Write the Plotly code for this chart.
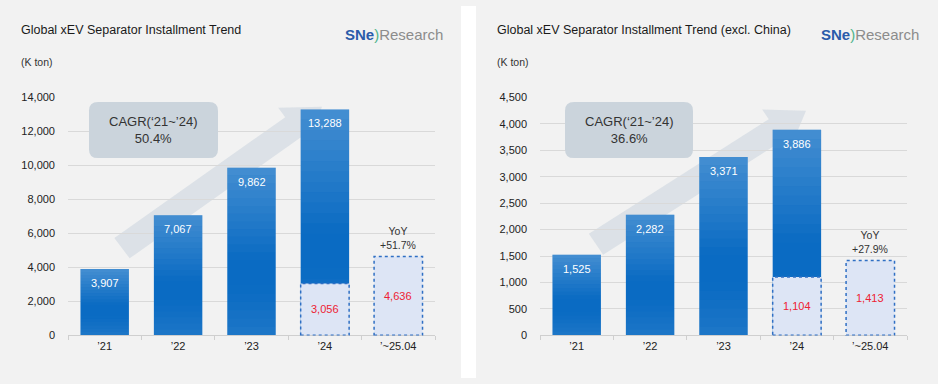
import math
import plotly.graph_objects as go

# ---------------- data ----------------
categories = ["’21", "’22", "’23", "’24", "’~25.04"]
global_vals = [3907, 7067, 9862, 13288, None]
global_ytd = [None, None, None, 3056, 4636]
excl_vals = [1525, 2282, 3371, 3886, None]
excl_ytd = [None, None, None, 1104, 1413]
titles = ["Global xEV Separator Installment Trend",
          "Global xEV Separator Installment Trend (excl. China)"]
cagr_texts = ["CAGR(‘21~’24)<br>50.4%", "CAGR(‘21~’24)<br>36.6%"]
yoy_texts = ["YoY<br>+51.7%", "YoY<br>+27.9%"]
y_max = [14000, 4500]
y_step = [2000, 500]

# ---------------- layout helpers ----------------
W, H = 938, 384
def px(x):
    return x / W
def py(y):
    return 1 - y / H

BAR_W = 0.66
BLUE = "#0a6bc3"
FONT = "Liberation Sans, Arial, sans-serif"

fig = go.Figure()

panels = [
    dict(vals=global_vals, ytd=global_ytd, xa="x", ya="y", dom=(68, 435), x0=0, x1=461,
         title_x=19, logo_x=343, cagr=(89, 218), arrow=((122, 250), (322, 104))),
    dict(vals=excl_vals, ytd=excl_ytd, xa="x2", ya="y2", dom=(540, 907), x0=476, x1=938,
         title_x=495, logo_x=819, cagr=(565, 693), arrow=((596, 246), (806, 108))),
]

shapes = []
annotations = []

# white gap between panels
shapes.append(dict(type="rect", xref="paper", yref="paper", x0=px(461), x1=px(476), y0=0, y1=1,
                   fillcolor="white", line=dict(width=0), layer="below"))

for k, p in enumerate(panels):
    xa, ya = p["xa"], p["ya"]
    fig.add_trace(go.Bar(x=categories, y=p["vals"], xaxis=xa, yaxis=ya, width=BAR_W,
                         marker=dict(color=BLUE, line=dict(width=0)), hoverinfo="skip",
                         showlegend=False))
    fig.add_trace(go.Bar(x=categories, y=p["ytd"], xaxis=xa, yaxis=ya, width=BAR_W,
                         marker=dict(color="#dde5f5", line=dict(width=0)), hoverinfo="skip",
                         showlegend=False))
    # gradient sheen on the blue bars (translucent bands over each bar)
    for i, v in enumerate(p["vals"]):
        if v is None:
            continue
        floor = p["ytd"][i] or 0
        nb = 12
        for j in range(nb):  # top light band fading down over 55% of height
            t0 = 1 - 0.55 * (j + 1) / nb
            t1 = 1 - 0.55 * j / nb
            op = 0.24 * (1 - (j + 0.5) / nb)
            y0, y1 = max(v * t0, floor), v * t1
            if y1 <= y0:
                continue
            shapes.append(dict(type="rect", xref=xa, yref=ya, x0=i - BAR_W / 2, x1=i + BAR_W / 2,
                               y0=y0, y1=y1, fillcolor=f"rgba(255,255,255,{op:.3f})",
                               line=dict(width=0), layer="above"))
        for j in range(6):  # slight lightening at the bottom
            t0 = 0.3 * j / 6
            t1 = 0.3 * (j + 1) / 6
            op = 0.08 * (1 - (j + 0.5) / 6)
            y0, y1 = max(v * t0, floor), v * t1
            if y1 <= y0:
                continue
            shapes.append(dict(type="rect", xref=xa, yref=ya, x0=i - BAR_W / 2, x1=i + BAR_W / 2,
                               y0=y0, y1=y1, fillcolor=f"rgba(255,255,255,{op:.3f})",
                               line=dict(width=0), layer="above"))
    # dotted outline for ytd boxes
    for i, v in enumerate(p["ytd"]):
        if v is None:
            continue
        shapes.append(dict(type="rect", xref=xa, yref=ya, x0=i - BAR_W / 2, x1=i + BAR_W / 2,
                           y0=0, y1=v, line=dict(color="#2f6fc4", width=1.5, dash="dot"),
                           fillcolor="rgba(0,0,0,0)", layer="above"))
        annotations.append(dict(xref=xa, yref=ya, x=categories[i], y=v / 2, text=f"{v:,}",
                                showarrow=False, font=dict(color="#ee2233", size=11, family=FONT)))
    # white value labels
    for i, v in enumerate(p["vals"]):
        if v is None:
            continue
        annotations.append(dict(xref=xa, yref=ya, x=categories[i], y=v, yshift=-14,
                                text=f"{v:,}", showarrow=False,
                                font=dict(color="white", size=11, family=FONT)))
    # YoY
    annotations.append(dict(xref=xa, yref=ya, x=categories[4], y=p["ytd"][4], yshift=4,
                            yanchor="bottom", text=yoy_texts[k], showarrow=False,
                            font=dict(color="#333333", size=10.5, family=FONT)))
    # title, unit, logo
    annotations.append(dict(xref="paper", yref="paper", x=px(p["title_x"]), y=py(25),
                            xanchor="left", yanchor="middle", text=titles[k], showarrow=False,
                            font=dict(color="#1a1a1a", size=12.5, family=FONT)))
    annotations.append(dict(xref="paper", yref="paper", x=px(p["title_x"]), y=py(58),
                            xanchor="left", yanchor="middle", text="(K ton)", showarrow=False,
                            font=dict(color="#333333", size=10.5, family=FONT)))
    annotations.append(dict(xref="paper", yref="paper", x=px(p["logo_x"]), y=py(29),
                            xanchor="left", yanchor="middle",
                            text="<b><span style='color:#2a5caa'>SNe</span></b>"
                                 "<span style='color:#4fb48a'>)</span>"
                                 "<span style='color:#8c8c8c'>Research</span>",
                            showarrow=False, font=dict(size=15, family=FONT)))
    # arrow
    (sx, sy), (tx, ty) = p["arrow"]
    dx, dy = tx - sx, ty - sy
    d = math.hypot(dx, dy)
    ux, uy = dx / d, dy / d
    nx, ny = -uy, ux
    a, b, L = 13, 25, 36
    bx, by = tx - ux * L, ty - uy * L
    pts = [(sx + nx * a, sy + ny * a), (bx + nx * a, by + ny * a), (bx + nx * b, by + ny * b),
           (tx, ty), (bx - nx * b, by - ny * b), (bx - nx * a, by - ny * a),
           (sx - nx * a, sy - ny * a)]
    path = "M " + " L ".join(f"{px(x):.5f},{py(y):.5f}" for x, y in pts) + " Z"
    shapes.append(dict(type="path", xref="paper", yref="paper", path=path,
                       fillcolor="rgba(205,214,224,0.6)", line=dict(width=0), layer="below"))
    # CAGR rounded box
    cx0, cx1 = p["cagr"]
    cy0, cy1 = 99, 157
    r = 9
    def P(x, y):
        return f"{px(x):.5f},{py(y):.5f}"
    rpath = (f"M {P(cx0 + r, cy0)} L {P(cx1 - r, cy0)} Q {P(cx1, cy0)} {P(cx1, cy0 + r)} "
             f"L {P(cx1, cy1 - r)} Q {P(cx1, cy1)} {P(cx1 - r, cy1)} "
             f"L {P(cx0 + r, cy1)} Q {P(cx0, cy1)} {P(cx0, cy1 - r)} "
             f"L {P(cx0, cy0 + r)} Q {P(cx0, cy0)} {P(cx0 + r, cy0)} Z")
    shapes.append(dict(type="path", xref="paper", yref="paper", path=rpath,
                       fillcolor="#cbd4dc", line=dict(width=0), layer="above"))
    annotations.append(dict(xref="paper", yref="paper", x=px((cx0 + cx1) / 2), y=py(128),
                            xanchor="center", yanchor="middle", text=cagr_texts[k],
                            showarrow=False, font=dict(color="#333333", size=13, family=FONT)))

axis_common_x = dict(type="category", categoryorder="array", categoryarray=categories,
                     showgrid=False, showline=True, linecolor="#cfcfcf", linewidth=1,
                     ticks="outside", tickson="boundaries", ticklen=4, tickcolor="#cfcfcf",
                     tickfont=dict(size=11, color="#222222", family=FONT), fixedrange=True,
                     range=[-0.5, 4.5])
ydom = (py(340), py(94))

layout_axes = {}
for k, p in enumerate(panels):
    sfx = "" if k == 0 else "2"
    layout_axes["xaxis" + sfx] = dict(axis_common_x, domain=[px(p["dom"][0]), px(p["dom"][1])],
                                      anchor="y" + sfx)
    layout_axes["yaxis" + sfx] = dict(domain=list(ydom), range=[0, y_max[k] * 1.001],
                                      dtick=y_step[k], tick0=0, tickformat=",",
                                      showgrid=True, gridcolor="#d9d9d9", gridwidth=1,
                                      zeroline=False, showline=False, ticks="",
                                      ticklabelstandoff=12,
                                      tickfont=dict(size=11, color="#222222", family=FONT),
                                      anchor="x" + sfx, fixedrange=True)

fig.update_layout(width=W, height=H, margin=dict(l=0, r=0, t=0, b=0),
                  paper_bgcolor="#f2f2f2", plot_bgcolor="rgba(0,0,0,0)",
                  barmode="overlay", shapes=shapes, annotations=annotations,
                  showlegend=False, font=dict(family=FONT), **layout_axes)

post = ("var s=document.createElement('style');"
        "s.innerHTML='html,body{margin:0!important;padding:0!important;overflow:hidden;"
        "width:938px;height:384px;}';"
        "document.head.appendChild(s);")
fig.write_html("out.html", config={"displayModeBar": False}, post_script=post)
